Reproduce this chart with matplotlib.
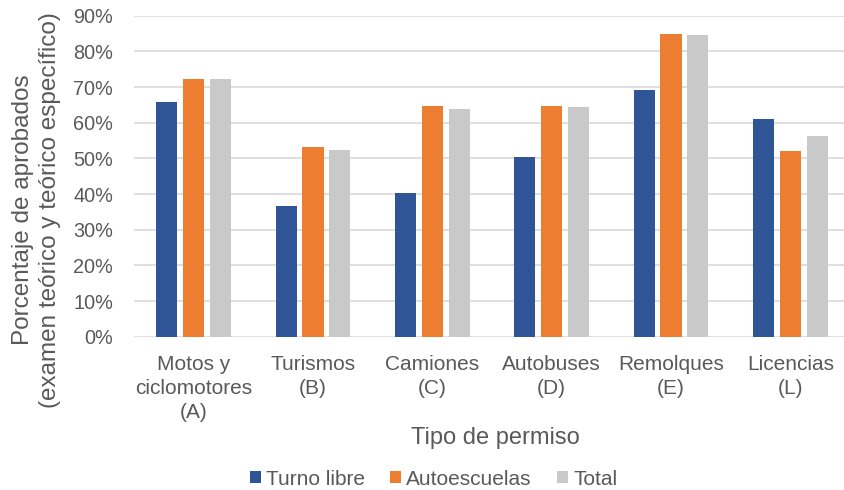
import matplotlib
matplotlib.use("Agg")
import matplotlib.pyplot as plt
import numpy as np
from matplotlib.patches import Patch
from matplotlib.ticker import PercentFormatter

categories = ["Motos y\nciclomotores\n(A)", "Turismos\n(B)", "Camiones\n(C)",
              "Autobuses\n(D)", "Remolques\n(E)", "Licencias\n(L)"]
turno_libre = [65.9, 36.6, 40.2, 50.3, 69.2, 61.0]
autoescuelas = [72.3, 53.2, 64.6, 64.7, 85.0, 52.2]
total = [72.2, 52.4, 63.8, 64.3, 84.6, 56.4]
series_names = ["Turno libre", "Autoescuelas", "Total"]
colors = ["#2F5597", "#ED7D31", "#C9C9C9"]
yticks = [0, 10, 20, 30, 40, 50, 60, 70, 80, 90]

plt.rcParams['font.family'] = ['Liberation Sans', 'DejaVu Sans']
txt = "#595959"
fs = 15

fig = plt.figure(figsize=(8.45, 4.9), dpi=100)
ax = fig.add_axes([134/845, 1-336.7/490, 716/845, (336.7-15.7)/490])

x = np.arange(len(categories))
step = 0.224
width = 0.176
for i, (vals, c, n) in enumerate(zip([turno_libre, autoescuelas, total], colors, series_names)):
    ax.bar(x + (i-1)*step, vals, width, color=c, label=n, zorder=3)

ax.set_xlim(-0.5, len(categories)-0.5)
ax.set_ylim(0, 90)
ax.set_yticks(yticks)
ax.yaxis.set_major_formatter(PercentFormatter(decimals=0))
ax.set_xticks(x)
ax.set_xticklabels(categories, fontsize=fs, color=txt, linespacing=1.35)
ax.tick_params(axis='y', length=0, pad=15, labelsize=14.3, labelcolor=txt)
ax.tick_params(axis='x', length=0, pad=13)
for s in ax.spines.values():
    s.set_visible(False)
ax.grid(axis='y', color='#D9D9D9', linewidth=1.2, zorder=0)
ax.set_axisbelow(True)

fig.text(36.5/845, 1-210/490, "Porcentaje de aprobados\n(examen teórico y teórico específico)",
         rotation=90, ha='center', va='center', multialignment='center',
         fontsize=17.5, color=txt, linespacing=1.3)
fig.text(495/845, 1-438/490, "Tipo de permiso", ha='center', va='center',
         fontsize=17, color=txt)

handles = [Patch(facecolor=c, label=n) for c, n in zip(colors, series_names)]
fig.legend(handles=handles, loc='center', bbox_to_anchor=(433.5/845, 1-479/490),
           ncol=3, frameon=False, fontsize=fs, labelcolor=txt,
           handlelength=0.53, handleheight=0.53, handletextpad=0.25, columnspacing=1.2,
           borderpad=0, borderaxespad=0)

fig.savefig("out.png", dpi=100)
